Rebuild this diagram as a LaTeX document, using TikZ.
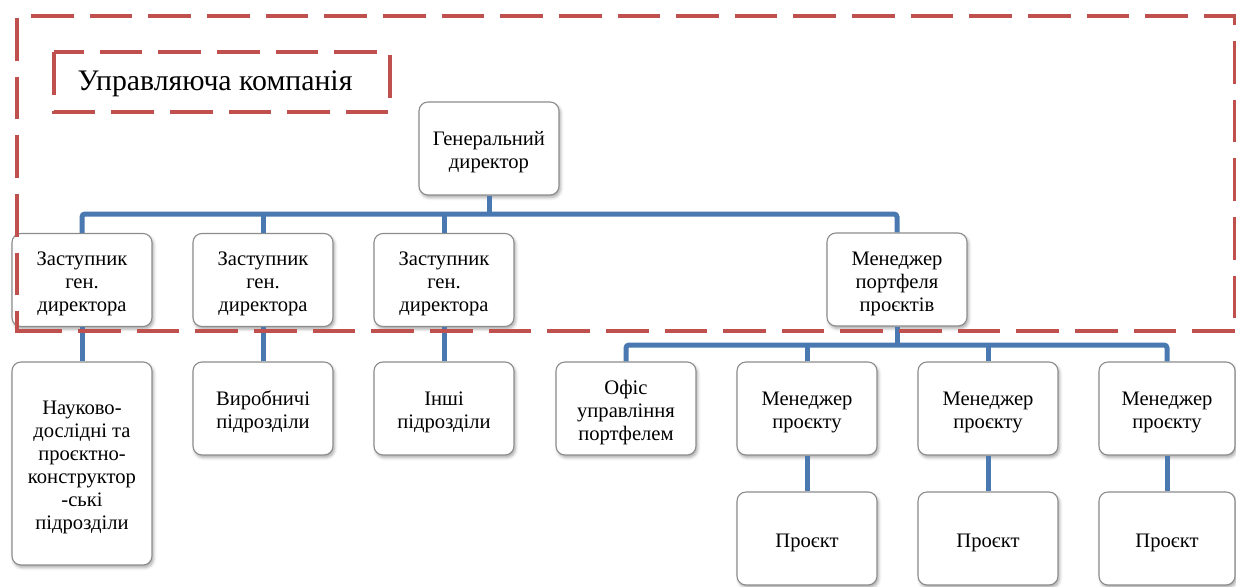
\documentclass[tikz,border=0pt]{standalone}
\usepackage{fontspec}
\setmainfont{Liberation Serif}
\usetikzlibrary{shadows.blur}
\definecolor{cRed}{HTML}{C0504D}
\definecolor{cBlue}{HTML}{4A78B0}
\definecolor{cEdge}{HTML}{8C8C8C}
% box text: centred lines, set a little below the middle of the box
\newcommand{\boxtext}[1]{\raisebox{-4pt}[\height][\depth]{\setlength{\tabcolsep}{0pt}\begin{tabular}{c}#1\end{tabular}}}
\tikzset{
  orgbox/.style={draw=cEdge, line width=1.1pt, fill=white, rounded corners=9pt,
    minimum width=140pt, minimum height=93pt, inner sep=0pt,
    font=\fontsize{20.6}{23}\selectfont,
    blur shadow={shadow xshift=1.5pt, shadow yshift=-2.5pt, shadow blur radius=3pt, shadow opacity=35}},
  conn/.style={draw=cBlue, line width=5pt, rounded corners=3pt},
  reddash/.style={draw=cRed, line width=4pt, dash pattern=on 42.65pt off 16pt}
}
\begin{document}
\begin{tikzpicture}[x=1pt, y=-1pt]
\useasboundingbox (0,0) rectangle (1236,586);

% bus junctions
\coordinate (b1) at (489,214);
\coordinate (b2) at (897,345);

% top level and deputies
\node[orgbox] (gd) at (489,148.5) {\boxtext{Генеральний\\директор}};
\node[orgbox] (z1) at (82,280) {\boxtext{Заступник\\ген.\\директора}};
\node[orgbox] (z2) at (263,280) {\boxtext{Заступник\\ген.\\директора}};
\node[orgbox] (z3) at (444,280) {\boxtext{Заступник\\ген.\\директора}};
\node[orgbox] (mp) at (897,279.5) {\boxtext{Менеджер\\портфеля\\проєктів}};

% departments and project managers
\node[orgbox, minimum height=203pt] (rd) at (82,463.5) {\boxtext{Науково-\\дослідні та\\проєктно-\\конструктор\\-ські\\підрозділи}};
\node[orgbox] (vp) at (263,408.5) {\boxtext{Виробничі\\підрозділи}};
\node[orgbox] (ip) at (444,408.5) {\boxtext{Інші\\підрозділи}};
\node[orgbox] (of) at (626,408.5) {\boxtext{Офіс\\управління\\портфелем}};
\node[orgbox] (pm1) at (807,408.5) {\boxtext{Менеджер\\проєкту}};
\node[orgbox] (pm2) at (988,408.5) {\boxtext{Менеджер\\проєкту}};
\node[orgbox, minimum width=136pt] (pm3) at (1167,408.5) {\boxtext{Менеджер\\проєкту}};

% projects
\node[orgbox] (p1) at (807,538.5) {\boxtext{Проєкт}};
\node[orgbox] (p2) at (988,538.5) {\boxtext{Проєкт}};
\node[orgbox, minimum width=136pt] (p3) at (1167,538.5) {\boxtext{Проєкт}};

% connectors
\draw[conn] (gd.south) -- (b1);
\draw[conn] (z1.north) |- (b1) -| (mp.north);
\draw[conn] (z2.north) -- (z2.north |- b1);
\draw[conn] (z3.north) -- (z3.north |- b1);
\draw[conn] (z1.south) -- (rd.north);
\draw[conn] (z2.south) -- (vp.north);
\draw[conn] (z3.south) -- (ip.north);
\draw[conn] (mp.south) -- (b2);
\draw[conn] (of.north) |- (b2) -| (pm3.north);
\draw[conn] (pm1.north) -- (pm1.north |- b2);
\draw[conn] (pm2.north) -- (pm2.north |- b2);
\draw[conn] (pm1.south) -- (p1.north);
\draw[conn] (pm2.south) -- (p2.north);
\draw[conn] (pm3.south) -- (p3.north);

% managing company frame
\draw[reddash, dash phase=42.65pt] (15,16) -- (1237,16);
\draw[reddash, dash phase=31.65pt] (1235,14) -- (1235,333);
\draw[reddash, dash phase=56.65pt] (1237,331) -- (15,331);
\draw[reddash, dash phase=54.65pt] (17,14) -- (17,333);

% its label
\node[font=\fontsize{29.8}{34}\selectfont, inner sep=0pt] (lbl) at (215,84) {Управляюча компанія};
\draw[reddash, dash phase=13pt] (54,52) -- (390,52) -- (390,112) -- (54,112) -- cycle;
\end{tikzpicture}
\end{document}
